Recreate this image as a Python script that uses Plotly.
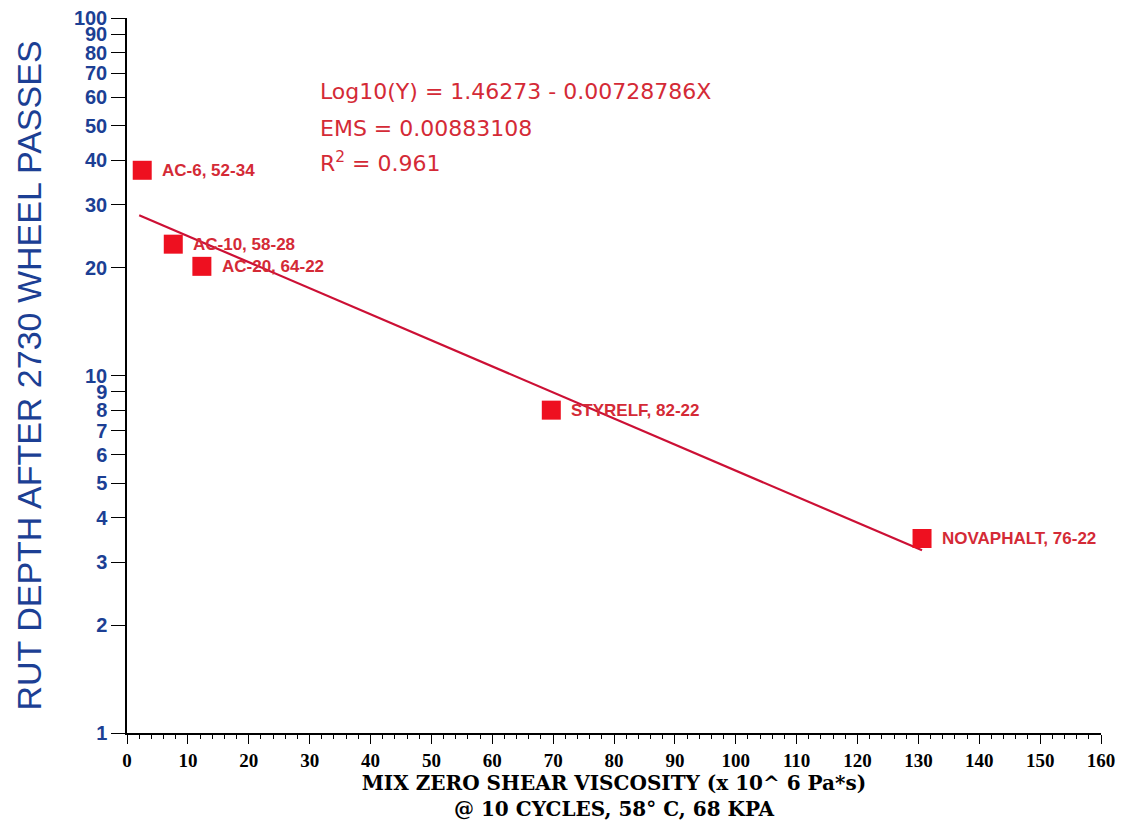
import math
import plotly.graph_objects as go

# Data
binders = ["AC-6, 52-34", "AC-10, 58-28", "AC-20, 64-22", "STYRELF, 82-22", "NOVAPHALT, 76-22"]
viscosity = [2.5, 7.6, 12.3, 69.7, 130.6]
rut_depth = [37.5, 23.3, 20.2, 8.0, 3.5]

fit_intercept = 1.46273
fit_slope = -0.00728786
fit_x = [min(viscosity) - 0.5, max(viscosity)]
fit_y = [10 ** (fit_intercept + fit_slope * x) for x in fit_x]

y_tickvals = [1, 2, 3, 4, 5, 6, 7, 8, 9, 10, 20, 30, 40, 50, 60, 70, 80, 90, 100]
y_ticktext = [str(v) for v in y_tickvals]
x_tickvals = list(range(0, 161, 10))

eq_lines = ["Log10(Y) = 1.46273 - 0.00728786X", "EMS = 0.00883108", "R<sup>2</sup> = 0.961"]

RED = "#ee1020"
LABEL_RED = "#d42a36"
LINE_RED = "#cc1035"
BLUE = "#1c3f94"

# page has an 8px body margin; plot area target: x 127..1101, y 18..733
OFF = 8
L, R, T, B = 127 - OFF, 23, 18 - OFF, 97
W, H = 1124 - OFF, 830 - OFF
PX0, PX1, PY0, PY1 = 127, 1101, 18, 733

fig = go.Figure()
fig.add_trace(go.Scatter(x=fit_x, y=fit_y, mode="lines",
                         line=dict(color=LINE_RED, width=2.2), showlegend=False, hoverinfo="skip"))
fig.add_trace(go.Scatter(x=viscosity, y=rut_depth, mode="markers",
                         marker=dict(symbol="square", size=19, color=RED, line=dict(width=0)),
                         showlegend=False))

for x, y, t in zip(viscosity, rut_depth, binders):
    fig.add_annotation(x=x, y=math.log10(y), xref="x", yref="y", text=t, showarrow=False,
                       xanchor="left", yanchor="middle", xshift=18,
                       font=dict(family="Liberation Sans Narrow, Arial Narrow, Liberation Sans, sans-serif",
                                 size=17, color=LABEL_RED, weight="bold"))

eq_y = [91, 128, 162]
for t, py in zip(eq_lines, eq_y):
    fig.add_annotation(x=(318 - PX0) / (PX1 - PX0), y=(PY1 - py) / (PY1 - PY0),
                       xref="paper", yref="paper", text=t,
                       showarrow=False, xanchor="left", yanchor="middle",
                       font=dict(family="DejaVu Sans, Liberation Sans, sans-serif", size=22, color=LABEL_RED))

fig.update_layout(
    width=W, height=H,
    margin=dict(l=L, r=R, t=T, b=B, autoexpand=False),
    plot_bgcolor="white", paper_bgcolor="white",
    xaxis=dict(range=[0, 160], tickvals=x_tickvals, showline=True, linecolor="black", linewidth=1.5,
               ticks="outside", ticklen=9, tickcolor="black", showgrid=False, zeroline=False,
               minor=dict(dtick=2, ticks="outside", ticklen=4, tickcolor="black"),
               tickfont=dict(family="Liberation Serif, DejaVu Serif, serif", size=19, color="black",
                             weight="bold"),
               ticklabeloverflow="allow",
               title=dict(text="MIX ZERO SHEAR VISCOSITY (x 10^ 6 Pa*s)<br>@ 10 CYCLES, 58° C, 68 KPA",
                          font=dict(family="DejaVu Serif, Liberation Serif, serif", size=20, color="black",
                                    weight="bold"),
                          standoff=2)),
    yaxis=dict(type="log", range=[0, 2], tickvals=y_tickvals, ticktext=y_ticktext,
               showline=True, linecolor="black", linewidth=1.5, ticks="outside", ticklen=14,
               tickcolor="black", showgrid=False, zeroline=False, ticklabeloverflow="allow",
               tickfont=dict(family="Liberation Sans, Arial, sans-serif", size=20, color=BLUE, weight="bold"),
               title=dict(text="RUT DEPTH AFTER 2730 WHEEL PASSES",
                          font=dict(family="Liberation Sans, Arial, sans-serif", size=34, color=BLUE),
                          standoff=22)),
)

fig.write_html("out.html")
